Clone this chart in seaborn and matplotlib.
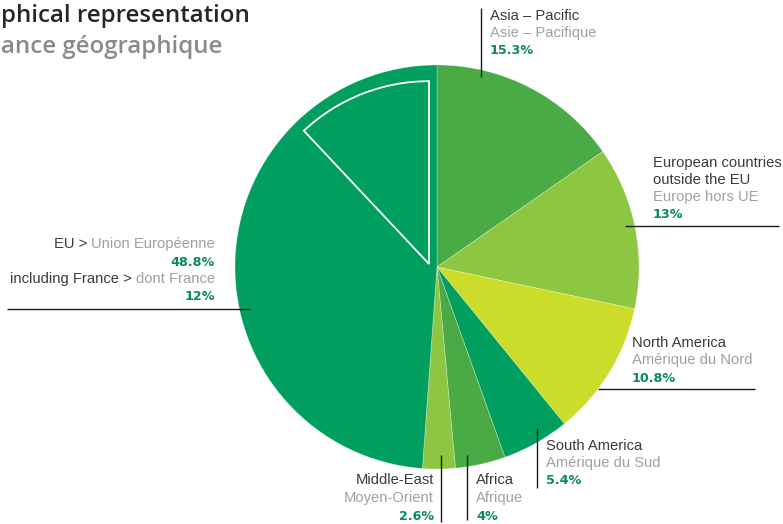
import matplotlib
matplotlib.use("Agg")
import matplotlib.pyplot as plt
import seaborn as sns

# ---- data ----
regions_en = ["Asia – Pacific", "European countries\noutside the EU", "North America",
              "South America", "Africa", "Middle-East", "EU"]
regions_fr = ["Asie – Pacifique", "Europe hors UE", "Amérique du Nord",
              "Amérique du Sud", "Afrique", "Moyen-Orient", "Union Européenne"]
shares = [15.3, 13.0, 10.8, 5.4, 4.0, 2.6, 48.8]
share_labels = ["15.3%", "13%", "10.8%", "5.4%", "4%", "2.6%", "48.8%"]
france_share = [12.0, 88.0]
france_label = "12%"
title_en = "phical representation"
title_fr = "ance géographique"

sns.set_theme(style="white")
plt.rcParams["font.family"] = ["Liberation Sans", "DejaVu Sans"]

W, H = 783, 524
fig = plt.figure(figsize=(W / 100, H / 100), dpi=100)
ax = fig.add_axes([0, 0, 1, 1])

DARK_GREEN = "#009f5f"
MID_GREEN = "#4aaa45"
LIGHT_GREEN = "#8dc640"
YELLOW_GREEN = "#cbdc2b"
colors = [MID_GREEN, LIGHT_GREEN, YELLOW_GREEN, DARK_GREEN, MID_GREEN, LIGHT_GREEN, DARK_GREEN]

CX, CY, R = 437, 267, 202


def Y(py):
    return H - py


ax.pie(shares, colors=colors, startangle=90, counterclock=False,
       center=(CX, Y(CY)), radius=R,
       wedgeprops=dict(linewidth=0.6, edgecolor=(1, 1, 1, 0.3)))

# France sub-wedge outline inside EU slice
fw, _ = ax.pie(france_share, startangle=90, counterclock=True,
               center=(429, Y(264)), radius=R * 0.905,
               colors=["none", "none"],
               wedgeprops=dict(linewidth=1.3, edgecolor="white"))
fw[1].set_visible(False)

ax.set_xlim(0, W)
ax.set_ylim(0, H)
ax.set_aspect("equal")
ax.axis("off")

TXT = "#3a3a3a"
GRAY = "#a0a0a0"
PCT = "#0b8a58"
FS = 10.6
PFS = 9.2


def line(x0, y0, x1, y1):
    ax.plot([x0, x1], [Y(y0), Y(y1)], color="#1a1a1a", lw=1.0, solid_capstyle="butt")


def lab(x, y, s, color, ha="left", bold=False, size=FS):
    if bold:
        return ax.text(x, Y(y), s, color=color, ha=ha, va="center", fontsize=PFS,
                       fontweight="bold", family="DejaVu Sans")
    return ax.text(x, Y(y), s, color=color, ha=ha, va="center", fontsize=size)


# Asia – Pacific
line(481, 8, 481, 77)
lab(490, 16, regions_en[0], TXT)
lab(490, 33, regions_fr[0], GRAY)
lab(490, 50, share_labels[0], PCT, bold=True)

# European countries outside the EU
line(625, 226, 779, 226)
en1, en2 = regions_en[1].split("\n")
lab(653, 163, en1, TXT)
lab(653, 180, en2, TXT)
lab(653, 197, regions_fr[1], GRAY)
lab(653, 214, share_labels[1], PCT, bold=True)

# North America
line(598, 389, 755, 389)
lab(632, 343, regions_en[2], TXT)
lab(632, 360, regions_fr[2], GRAY)
lab(632, 378, share_labels[2], PCT, bold=True)

# South America
line(537, 428, 537, 488)
lab(546, 446, regions_en[3], TXT)
lab(546, 463, regions_fr[3], GRAY)
lab(546, 481, share_labels[3], PCT, bold=True)

# Africa
line(467, 455, 467, 520)
lab(476, 480, regions_en[4], TXT)
lab(476, 498, regions_fr[4], GRAY)
lab(476, 516, share_labels[4], PCT, bold=True)

# Middle-East
line(441, 455, 441, 522)
lab(434, 480, regions_en[5], TXT, ha="right")
lab(434, 498, regions_fr[5], GRAY, ha="right")
lab(434, 516, share_labels[5], PCT, ha="right", bold=True)

# EU
line(7, 309, 250, 309)
renderer = fig.canvas.get_renderer()
inv = ax.transData.inverted()


def two_tone(xr, y, dark, light):
    t = lab(xr, y, light, GRAY, ha="right")
    bb = t.get_window_extent(renderer=renderer)
    x0 = inv.transform((bb.x0, bb.y0))[0]
    lab(x0, y, dark, TXT, ha="right")


two_tone(215, 244, "EU > ", regions_fr[6])
lab(215, 262, share_labels[6], PCT, ha="right", bold=True)
two_tone(215, 279, "including France > ", "dont France")
lab(215, 297, france_label, PCT, ha="right", bold=True)

# Title (cropped in original)
ax.text(1, Y(16), title_en, color="#262626", ha="left", va="center",
        fontsize=17.3, fontweight="semibold", family=["Open Sans", "DejaVu Sans"])
ax.text(1, Y(47), title_fr, color="#8a8a8a", ha="left", va="center",
        fontsize=17.3, fontweight="semibold", family=["Open Sans", "DejaVu Sans"])

fig.savefig("out.png", dpi=100, facecolor="white")
